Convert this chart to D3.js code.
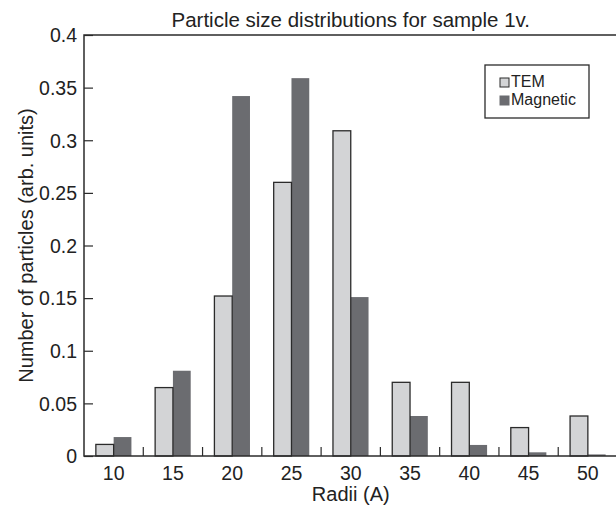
<!DOCTYPE html>
<html>
<head>
<meta charset="utf-8">
<script src="https://cdn.jsdelivr.net/npm/d3@7"></script>
<style>
  body { margin: 0; background: #fff; }
  svg { display: block; font-family: "Liberation Sans", Arial, Helvetica, sans-serif; }
  .axis text { fill: #222; }
</style>
</head>
<body>
<div id="chart"></div>
<script>
// data
var categories = ["10", "15", "20", "25", "30", "35", "40", "45", "50"];
var temValues = [0.011, 0.065, 0.152, 0.26, 0.309, 0.07, 0.07, 0.027, 0.038];
var magValues = [0.018, 0.081, 0.342, 0.359, 0.151, 0.038, 0.0105, 0.0035, 0.0015];
var seriesNames = ["TEM", "Magnetic"];
var yTicks = [0, 0.05, 0.1, 0.15, 0.2, 0.25, 0.3, 0.35, 0.4];
var yTickLabels = ["0", "0.05", "0.1", "0.15", "0.2", "0.25", "0.3", "0.35", "0.4"];

var W = 616, H = 508;
var plotLeft = 84, plotRight = 617.5, plotTop = 35, plotBottom = 456;
var colors = ["#d3d4d6", "#6b6c70"];
var ink = "#2b2b2b";

var svg = d3.select("#chart")
    .append("svg")
    .attr("width", W)
    .attr("height", H);

var x = d3.scaleBand().domain(categories).range([plotLeft, plotRight]).padding(0);
var inner = d3.scaleBand().domain(seriesNames).range([0, x.bandwidth() * 0.6]);
var groupOffset = x.bandwidth() * 0.2;
var y = d3.scaleLinear().domain([0, 0.4]).range([plotBottom, plotTop]);

// title
svg.append("text")
    .attr("x", (plotLeft + plotRight) / 2)
    .attr("y", 27)
    .attr("text-anchor", "middle")
    .attr("font-size", "20.5px")
    .attr("fill", "#222")
    .text("Particle size distributions for sample 1v.");

// bars
var rows = categories.map(function (c, i) {
    return { cat: c, values: [temValues[i], magValues[i]] };
});

var groups = svg.append("g").selectAll("g")
    .data(rows)
    .enter().append("g")
    .attr("transform", function (d) { return "translate(" + (x(d.cat) + groupOffset) + ",0)"; });

// magnetic first so the TEM outline sits on top
groups.append("rect")
    .attr("x", inner("Magnetic"))
    .attr("y", function (d) { return y(d.values[1]); })
    .attr("width", inner.bandwidth())
    .attr("height", function (d) { return plotBottom - y(d.values[1]); })
    .attr("fill", colors[1]);

groups.append("rect")
    .attr("x", inner("TEM"))
    .attr("y", function (d) { return y(d.values[0]); })
    .attr("width", inner.bandwidth())
    .attr("height", function (d) { return plotBottom - y(d.values[0]); })
    .attr("fill", colors[0])
    .attr("stroke", ink)
    .attr("stroke-width", 1.3);

// y axis, ticks pointing inward
var yAxis = svg.append("g")
    .attr("class", "axis")
    .attr("transform", "translate(" + plotLeft + ",0)")
    .call(d3.axisLeft(y).tickValues(yTicks)
        .tickFormat(function (d, i) { return yTickLabels[i]; })
        .tickSize(-9).tickPadding(7));
yAxis.select(".domain").remove();
yAxis.selectAll("line").attr("stroke", ink).attr("stroke-width", 1.2);
yAxis.selectAll("text").attr("font-size", "19.5px").attr("dy", "0.35em");

// x axis labels at group centres
var xAxis = svg.append("g")
    .attr("class", "axis")
    .attr("transform", "translate(0," + plotBottom + ")")
    .call(d3.axisBottom(x).tickSize(0).tickPadding(24));
xAxis.select(".domain").remove();
xAxis.selectAll("text").attr("font-size", "19.5px").attr("dy", "0");

// tick marks between groups
svg.append("g").selectAll("line")
    .data(categories.slice(1))
    .enter().append("line")
    .attr("x1", function (d) { return x(d); })
    .attr("x2", function (d) { return x(d); })
    .attr("y1", plotBottom)
    .attr("y2", plotBottom - 9)
    .attr("stroke", ink)
    .attr("stroke-width", 1.2);

// frame
svg.append("rect")
    .attr("x", plotLeft)
    .attr("y", plotTop)
    .attr("width", plotRight - plotLeft)
    .attr("height", plotBottom - plotTop)
    .attr("fill", "none")
    .attr("stroke", ink)
    .attr("stroke-width", 1.5);

// axis titles
svg.append("text")
    .attr("x", (plotLeft + plotRight) / 2)
    .attr("y", 501)
    .attr("text-anchor", "middle")
    .attr("font-size", "20px")
    .attr("fill", "#222")
    .text("Radii (A)");

svg.append("text")
    .attr("transform", "translate(33," + ((plotTop + plotBottom) / 2) + ") rotate(-90)")
    .attr("text-anchor", "middle")
    .attr("font-size", "20px")
    .attr("fill", "#222")
    .text("Number of particles (arb. units)");

// legend
var legend = svg.append("g");
legend.append("rect")
    .attr("x", 485).attr("y", 65)
    .attr("width", 104).attr("height", 53)
    .attr("fill", "#fff")
    .attr("stroke", ink)
    .attr("stroke-width", 1.3);

var items = legend.selectAll("g")
    .data(seriesNames)
    .enter().append("g")
    .attr("transform", function (d, i) { return "translate(500," + (78 + i * 18) + ")"; });

items.append("rect")
    .attr("width", 9).attr("height", 9)
    .attr("fill", function (d, i) { return colors[i]; })
    .attr("stroke", function (d, i) { return i === 0 ? ink : colors[1]; })
    .attr("stroke-width", 1);

items.append("text")
    .attr("x", 11)
    .attr("y", 9)
    .attr("font-size", "16px")
    .attr("fill", "#222")
    .text(function (d) { return d; });
</script>
</body>
</html>
